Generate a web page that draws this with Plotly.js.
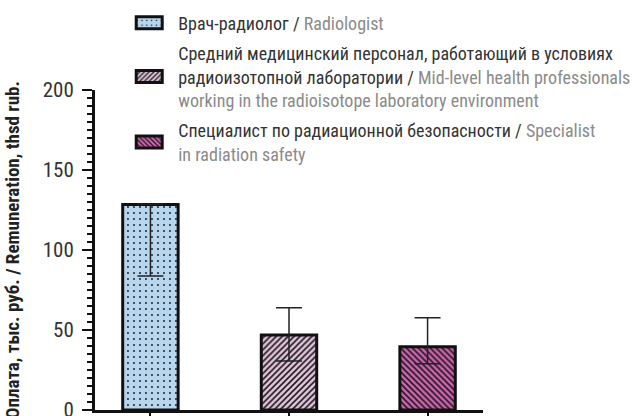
<!DOCTYPE html>
<html>
<head>
<meta charset="utf-8">
<script src="https://cdn.plot.ly/plotly-3.0.1.min.js"></script>
<style>html,body{margin:0;padding:0;background:#fff;}#chart{width:644px;height:416px;}</style>
</head>
<body>
<div id="chart"></div>
<script>
// Data
const categories = ["Врач-радиолог", "Средний медицинский персонал", "Специалист по радиационной безопасности"];
const seriesNamesRu = ["Врач-радиолог", "Средний медицинский персонал, работающий в условиях<br>радиоизотопной лаборатории", "Специалист по радиационной безопасности"];
const seriesNamesEn = ["Radiologist", "Mid-level health professionals<br>working in the radioisotope laboratory environment", "Specialist<br>in radiation safety"];
const values = [128.5, 46.8, 39.6];
const errorPlus = [0.3, 17.1, 18.1];
const errorMinus = [44.7, 16.2, 10.7];
const yTickVals = [0, 50, 100, 150, 200];

const FONT = "'Roboto Condensed', 'Liberation Sans Narrow', 'DejaVu Sans Condensed', 'Arial Narrow', Roboto, sans-serif";
const colors = ["#b7d6ee", "#e4c4df", "#d263b3"];
const shapes = [".", "/", "\\"];
const psizes = [6, 4.2, 4.2];
const psol = [0.08, 0.38, 0.38];
const GREY = "#8a8a8a";

function legendName(i) {
  const ru = seriesNamesRu[i].split("<br>");
  const en = seriesNamesEn[i].split("<br>");
  const lines = ru.slice(0, -1);
  lines.push(ru[ru.length - 1] + ' / <span style="color:' + GREY + '">' + en[0] + '</span>');
  en.slice(1).forEach(l => lines.push('<span style="color:' + GREY + '">' + l + '</span>'));
  return lines.join("<br>");
}

const traces = categories.map((c, i) => ({
  type: "bar",
  x: [c],
  y: [values[i]],
  name: legendName(i),
  legendgroup: "g" + i,
  width: 0.4,
  marker: {
    color: colors[i],
    line: {color: "#111", width: 3},
    pattern: {shape: shapes[i], fgcolor: "#1a1a1a", bgcolor: colors[i], size: psizes[i], solidity: psol[i], fillmode: "replace"}
  },
  error_y: {type: "data", symmetric: false, array: [errorPlus[i]], arrayminus: [errorMinus[i]], color: "#222", thickness: 1.5, width: 13},
  hoverinfo: "y"
}));

const layout = {
  width: 644, height: 416,
  margin: {l: 95, r: 161, t: 90, b: 6, autoexpand: false},
  paper_bgcolor: "#fff", plot_bgcolor: "#fff",
  font: {family: FONT, color: "#333", size: 18},
  barmode: "overlay",
  showlegend: true,
  legend: {
    x: 0.065, xanchor: "left", y: 1.267, yanchor: "top",
    font: {family: FONT, size: 18, color: "#333"},
    itemwidth: 48, tracegroupgap: 4, bgcolor: "rgba(0,0,0,0)", valign: "middle"
  },
  xaxis: {
    type: "category", categoryarray: categories, range: [-0.4, 2.4],
    showticklabels: false, showgrid: false, zeroline: false,
    showline: true, linecolor: "#111", linewidth: 3,
    ticks: "outside", ticklen: 6, tickwidth: 2, tickcolor: "#111"
  },
  yaxis: {
    range: [0, 200], tickvals: yTickVals, showgrid: false, zeroline: false,
    showline: true, linecolor: "#111", linewidth: 3,
    ticks: "outside", ticklen: 10, tickwidth: 2.5, tickcolor: "#111",
    ticklabeloverflow: "allow", ticklabelstandoff: 4,
    tickfont: {family: FONT, size: 21, color: "#333"},
    minor: {dtick: 5, ticks: "outside", ticklen: 5, tickwidth: 2, tickcolor: "#111", showgrid: false},
    title: {text: "<b>Оплата, тыс. руб. / Remuneration, thsd rub.</b>", font: {family: FONT, size: 19, color: "#222"}, standoff: 19}
  }
};

Plotly.newPlot("chart", traces, layout, {displayModeBar: false, staticPlot: true}).then(gd => {
  gd.querySelectorAll(".legend .legendpoints path").forEach(p => {
    p.setAttribute("d", "M13,6H-13V-6H13Z");
  });
});
</script>
</body>
</html>
